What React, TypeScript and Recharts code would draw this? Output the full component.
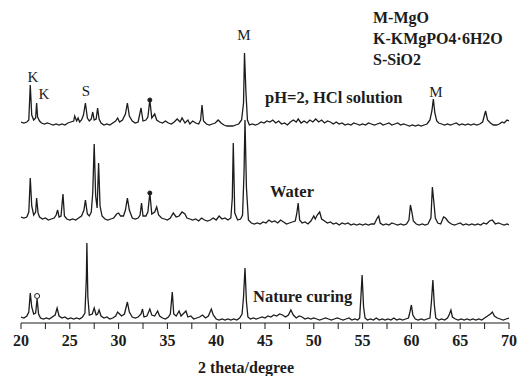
import { LineChart, Line, XAxis, YAxis, ReferenceDot } from 'recharts'

// XRD patterns, 2θ (deg) vs. intensity (a.u., relative to each trace's own baseline)
const acidPattern: [number, number][] = [
  [20.0, 1], [20.3, 0], [20.6, 1], [20.8, 3], [20.95, 38], [21.1, 8], [21.3, 3], [21.5, 5], [21.6, 20], [21.7, 6],
  [21.9, 2], [22.1, 0], [22.4, -1], [22.7, 0], [23.0, -1], [23.3, -2], [23.6, -1], [23.9, -2], [24.2, -1], [24.5, -2],
  [24.8, 0], [25.1, 1], [25.4, 2], [25.5, 7], [25.7, 2], [25.85, 5], [26.0, 1], [26.2, 3], [26.4, 8], [26.6, 20],
  [26.8, 5], [27.0, 2], [27.2, 4], [27.35, 11], [27.5, 3], [27.7, 4], [27.85, 15], [28.0, 4], [28.2, 0], [28.5, -2],
  [28.8, -1], [29.1, -2], [29.4, 0], [29.7, 2], [29.9, 5], [30.1, 1], [30.4, 3], [30.7, 9], [30.9, 20], [31.1, 7],
  [31.4, 2], [31.7, 0], [32.0, 1], [32.3, 15], [32.5, 2], [32.8, 3], [33.0, 6], [33.2, 23], [33.4, 5], [33.7, 9],
  [33.9, 3], [34.2, 1], [34.5, 0], [34.8, 2], [35.1, 0], [35.4, -1], [35.7, 1], [36.0, 4], [36.3, 1], [36.5, 5],
  [36.8, 0], [37.1, 3], [37.3, -1], [37.6, 2], [37.9, 0], [38.2, -1], [38.4, 3], [38.55, 18], [38.7, 2], [39.0, -1],
  [39.3, -2], [39.6, -1], [39.9, 0], [40.2, 3], [40.5, 0], [40.8, -2], [41.1, -3], [41.4, -3], [41.7, -3], [42.0, -2],
  [42.3, -1], [42.6, 3], [42.8, 20], [42.9, 70], [43.05, 30], [43.2, 3], [43.4, -2], [43.7, -1], [44.0, -2], [44.3, -1],
  [44.6, 1], [44.9, 0], [45.2, 2], [45.5, 1], [45.8, 3], [46.1, 0], [46.4, 2], [46.7, -1], [47.0, 0], [47.3, -2],
  [47.6, 1], [47.9, 3], [48.2, 1], [48.4, 4], [48.7, 0], [49.0, 2], [49.3, 0], [49.6, 3], [49.9, 1], [50.2, 4],
  [50.5, 1], [50.8, 3], [51.1, 0], [51.4, 2], [51.7, 1], [52.0, -1], [52.3, 1], [52.6, -1], [52.9, 0], [53.2, -2],
  [53.5, -1], [53.8, -2], [54.1, 0], [54.4, -1], [54.7, -2], [55.0, -1], [55.3, -2], [55.6, 0], [55.9, -1], [56.2, -2],
  [56.5, -1], [56.8, 0], [57.1, -2], [57.4, -1], [57.7, 0], [58.0, -2], [58.3, -1], [58.6, 0], [58.9, -2], [59.2, -1],
  [59.5, -2], [59.8, -3], [60.1, -2], [60.4, -3], [60.7, -2], [61.0, -3], [61.3, -2], [61.6, -1], [61.9, 3], [62.1, 12],
  [62.25, 24], [62.4, 10], [62.6, 2], [62.8, 0], [63.1, -1], [63.4, -2], [63.7, -1], [64.0, -2], [64.3, -1], [64.6, 0],
  [64.9, -2], [65.2, -1], [65.5, -2], [65.8, -1], [66.1, -2], [66.4, -1], [66.7, -2], [67.0, -1], [67.3, 1], [67.6, 12],
  [67.8, 3], [68.1, 0], [68.4, -2], [68.7, -2], [69.0, -1], [69.3, 1], [69.5, 0], [69.8, 3], [70.0, 2],
]

const waterPattern: [number, number][] = [
  [20.0, 1], [20.3, 0], [20.6, 1], [20.8, 6], [20.95, 40], [21.1, 12], [21.3, 3], [21.5, 6], [21.6, 20], [21.75, 5],
  [21.9, 1], [22.2, -1], [22.5, 0], [22.8, -2], [23.1, -1], [23.4, 0], [23.6, 3], [23.75, 8], [23.9, 1], [24.1, 2],
  [24.3, 24], [24.45, 2], [24.7, -1], [25.0, -2], [25.3, -1], [25.6, -2], [25.9, 0], [26.2, 2], [26.45, 8], [26.6, 18],
  [26.8, 4], [27.0, 2], [27.2, 6], [27.35, 25], [27.5, 74], [27.65, 22], [27.8, 10], [27.95, 55], [28.1, 12], [28.3, 2],
  [28.6, -1], [28.9, -2], [29.2, -1], [29.5, 0], [29.8, 4], [30.0, 5], [30.2, 2], [30.5, 2], [30.7, 8], [30.9, 20],
  [31.1, 8], [31.4, 0], [31.7, -1], [32.0, 0], [32.2, 3], [32.35, 15], [32.5, 2], [32.8, 2], [33.0, 6], [33.2, 25],
  [33.4, 4], [33.7, 6], [33.9, 11], [34.1, 3], [34.4, 0], [34.7, -1], [35.0, -2], [35.3, 0], [35.6, 5], [35.9, 1],
  [36.2, 2], [36.5, 6], [36.8, 4], [37.0, 0], [37.3, -1], [37.6, -2], [37.9, -1], [38.2, -3], [38.5, 0], [38.8, -2],
  [39.1, -3], [39.4, -2], [39.7, 0], [40.0, -2], [40.3, 2], [40.6, -1], [40.9, 0], [41.2, -2], [41.5, 0], [41.65, 20],
  [41.75, 75], [41.9, 5], [42.2, -2], [42.5, -1], [42.7, 3], [42.85, 45], [42.95, 98], [43.1, 30], [43.3, -2], [43.6, -5],
  [43.9, -6], [44.2, -5], [44.5, -6], [44.8, -4], [45.1, -5], [45.4, -2], [45.7, -4], [46.0, -3], [46.3, -5], [46.6, -2],
  [46.9, -4], [47.2, -6], [47.5, -5], [47.8, -4], [48.1, -3], [48.25, 4], [48.4, 15], [48.55, -2], [48.8, -5], [49.1, -4],
  [49.4, -6], [49.7, -3], [50.0, 2], [50.15, -1], [50.35, 3], [50.6, 6], [50.8, -1], [51.1, -3], [51.4, -5], [51.7, -4],
  [52.0, -6], [52.3, -5], [52.6, -7], [52.9, -5], [53.2, -6], [53.5, -5], [53.8, -7], [54.1, -6], [54.4, -7], [54.7, -6],
  [55.0, -7], [55.3, -6], [55.6, -7], [55.9, -6], [56.2, -6], [56.5, 0], [56.65, 2], [56.8, -5], [57.1, -7], [57.4, -6],
  [57.7, -7], [58.0, -5], [58.3, -6], [58.6, -7], [58.9, -6], [59.2, -7], [59.5, -6], [59.75, -2], [59.9, 13], [60.05, 6],
  [60.2, -3], [60.5, -6], [60.8, -7], [61.1, -6], [61.4, -7], [61.7, -6], [62.0, 0], [62.15, 31], [62.3, 16], [62.45, 0],
  [62.7, -5], [63.0, -6], [63.3, 1], [63.5, 0], [63.8, -4], [64.1, -6], [64.4, -7], [64.7, -6], [65.0, -5], [65.3, -7],
  [65.6, -6], [65.9, -7], [66.2, -6], [66.5, -7], [66.8, -6], [67.1, -7], [67.4, -5], [67.7, -6], [68.0, -3], [68.3, -2],
  [68.6, -6], [68.9, -5], [69.2, -6], [69.5, -7], [69.8, -6], [70.0, -7],
]

const naturePattern: [number, number][] = [
  [20.0, 0], [20.3, -1], [20.6, 1], [20.8, 5], [20.95, 24], [21.1, 10], [21.3, 3], [21.5, 4], [21.65, 18], [21.8, 3],
  [22.0, -1], [22.3, -2], [22.6, -1], [22.9, -2], [23.2, 0], [23.5, 2], [23.7, 9], [23.9, 1], [24.2, -1], [24.5, 0],
  [24.8, -2], [25.1, -1], [25.4, -2], [25.7, -1], [26.0, -2], [26.3, 0], [26.55, 4], [26.7, 40], [26.75, 74], [26.85, 20],
  [27.0, 2], [27.3, 3], [27.5, 9], [27.7, 2], [27.85, 3], [28.0, 7], [28.2, 1], [28.5, -1], [28.8, 0], [29.1, -2],
  [29.4, -1], [29.7, 1], [29.9, 5], [30.1, 3], [30.3, 1], [30.6, 3], [30.9, 15], [31.1, 5], [31.4, 0], [31.7, -1],
  [32.0, 0], [32.3, 3], [32.45, 8], [32.6, 0], [32.9, 1], [33.2, 8], [33.4, 2], [33.7, 1], [34.0, 6], [34.2, 1],
  [34.5, -1], [34.8, -2], [35.1, 0], [35.3, 3], [35.5, 25], [35.65, 3], [35.9, 1], [36.2, 6], [36.4, 1], [36.6, 3],
  [36.9, 6], [37.1, 0], [37.4, 1], [37.7, -2], [38.0, -1], [38.3, 0], [38.6, 2], [38.9, -1], [39.2, 1], [39.5, 8],
  [39.7, 2], [40.0, -2], [40.3, -3], [40.6, -2], [40.9, -3], [41.2, -2], [41.5, -3], [41.8, -2], [42.1, -3], [42.4, -1],
  [42.65, 3], [42.8, 20], [42.95, 49], [43.1, 15], [43.25, 0], [43.5, -2], [43.8, -1], [44.1, -2], [44.4, -1], [44.7, 0],
  [45.0, -1], [45.3, 1], [45.6, 0], [45.9, 2], [46.2, 1], [46.5, 3], [46.8, 2], [47.1, 0], [47.4, 2], [47.65, 7],
  [47.9, 2], [48.2, -1], [48.5, 1], [48.8, 0], [49.1, -2], [49.4, -1], [49.7, -2], [50.0, -1], [50.3, -2], [50.6, -3],
  [50.9, -2], [51.2, -1], [51.5, -2], [51.8, -3], [52.1, -2], [52.4, -1], [52.7, -2], [53.0, -3], [53.3, -2], [53.6, -1],
  [53.9, -3], [54.2, -2], [54.5, -3], [54.7, -1], [54.85, 24], [54.95, 42], [55.1, 10], [55.25, -1], [55.5, -3], [55.8, -2],
  [56.1, -3], [56.4, -1], [56.7, -3], [57.0, -2], [57.3, -3], [57.6, -2], [57.9, -3], [58.2, -1], [58.5, -3], [58.8, -2],
  [59.1, -3], [59.4, -2], [59.7, -1], [59.85, 5], [60.0, 12], [60.15, 2], [60.4, -2], [60.7, -3], [61.0, -2], [61.3, -3],
  [61.6, -2], [61.9, -1], [62.05, 15], [62.2, 37], [62.35, 12], [62.5, -1], [62.8, -3], [63.1, -2], [63.4, -3], [63.7, -1],
  [63.9, 3], [64.05, 7], [64.2, 0], [64.5, -2], [64.8, -3], [65.1, -2], [65.4, -3], [65.7, -2], [66.0, -3], [66.3, -2],
  [66.6, -3], [66.9, -2], [67.2, -3], [67.5, -1], [67.8, 1], [68.1, 3], [68.3, 5], [68.5, 1], [68.8, -1], [69.1, -2],
  [69.4, -3], [69.7, -2], [70.0, -1],
]

// vertical stacking offsets (a.u.)
const acidOffset = 200
const waterOffset = 105
const natureOffset = 6

const xTicks = [20, 22.5, 25, 27.5, 30, 32.5, 35, 37.5, 40, 42.5, 45, 47.5, 50, 52.5, 55, 57.5, 60, 62.5, 65, 67.5, 70]

const serif = '"Liberation Serif", "Times New Roman", serif'
const ink = '#1c1c1c'

const toRows = (pts: [number, number][], off: number) => pts.map(([x, y]) => ({ x, y: y + off }))

function Note({ x, y, children, bold = false, size = 16, anchor = 'center' }: {
  x: number; y: number; children: any; bold?: boolean; size?: number; anchor?: 'center' | 'left'
}) {
  return (
    <div style={{
      position: 'absolute', left: x, top: y, whiteSpace: 'nowrap',
      transform: anchor === 'center' ? 'translate(-50%, -50%)' : 'translate(0, -50%)',
      fontFamily: serif, fontSize: size, fontWeight: bold ? 700 : 400, color: ink, lineHeight: 1,
    }}>{children}</div>
  )
}

export default function App() {
  const acid = toRows(acidPattern, acidOffset)
  const water = toRows(waterPattern, waterOffset)
  const nature = toRows(naturePattern, natureOffset)

  return (
    <div style={{ position: 'absolute', left: 0, top: 0, width: 517, height: 376, background: '#fff' }}>
      <LineChart width={517} height={376} margin={{ top: 23, right: 8, bottom: 23, left: 21 }}>
        <XAxis
          dataKey="x" type="number" domain={[20, 70]} ticks={xTicks} allowDataOverflow
          tickFormatter={(v: number) => (v % 5 === 0 ? String(v) : '')}
          tick={{ fontFamily: serif, fontSize: 16, fontWeight: 700, fill: ink }}
          tickSize={6} tickMargin={6} height={30}
          stroke={ink} axisLine={{ stroke: ink, strokeWidth: 1.2 }}
        />
        <YAxis hide type="number" domain={[0, 300]} allowDataOverflow />
        <Line data={nature} dataKey="y" stroke={ink} strokeWidth={1.3} dot={false} isAnimationActive={false} />
        <Line data={water} dataKey="y" stroke={ink} strokeWidth={1.3} dot={false} isAnimationActive={false} />
        <Line data={acid} dataKey="y" stroke={ink} strokeWidth={1.3} dot={false} isAnimationActive={false} />
        <ReferenceDot x={33.2} y={acidOffset + 23} r={2} fill={ink} stroke={ink} />
        <ReferenceDot x={33.2} y={waterOffset + 25} r={2} fill={ink} stroke={ink} />
        <ReferenceDot x={21.65} y={natureOffset + 21} r={2.5} fill="#fff" stroke={ink} />
      </LineChart>

      <Note x={373} y={18} bold anchor="left">M-MgO</Note>
      <Note x={373} y={39} bold anchor="left">K-KMgPO4·6H2O</Note>
      <Note x={373} y={60} bold anchor="left">S-SiO2</Note>

      <Note x={244} y={35} size={15}>M</Note>
      <Note x={33} y={77} size={15}>K</Note>
      <Note x={44} y={94} size={15}>K</Note>
      <Note x={86} y={91} size={15}>S</Note>
      <Note x={436} y={92} size={15}>M</Note>

      <Note x={265} y={98} bold size={16.5} anchor="left">pH=2, HCl solution</Note>
      <Note x={270} y={192} bold size={16.5} anchor="left">Water</Note>
      <Note x={253} y={297} bold size={16.5} anchor="left">Nature curing</Note>

      <Note x={246} y={368} bold>2 theta/degree</Note>
    </div>
  )
}
